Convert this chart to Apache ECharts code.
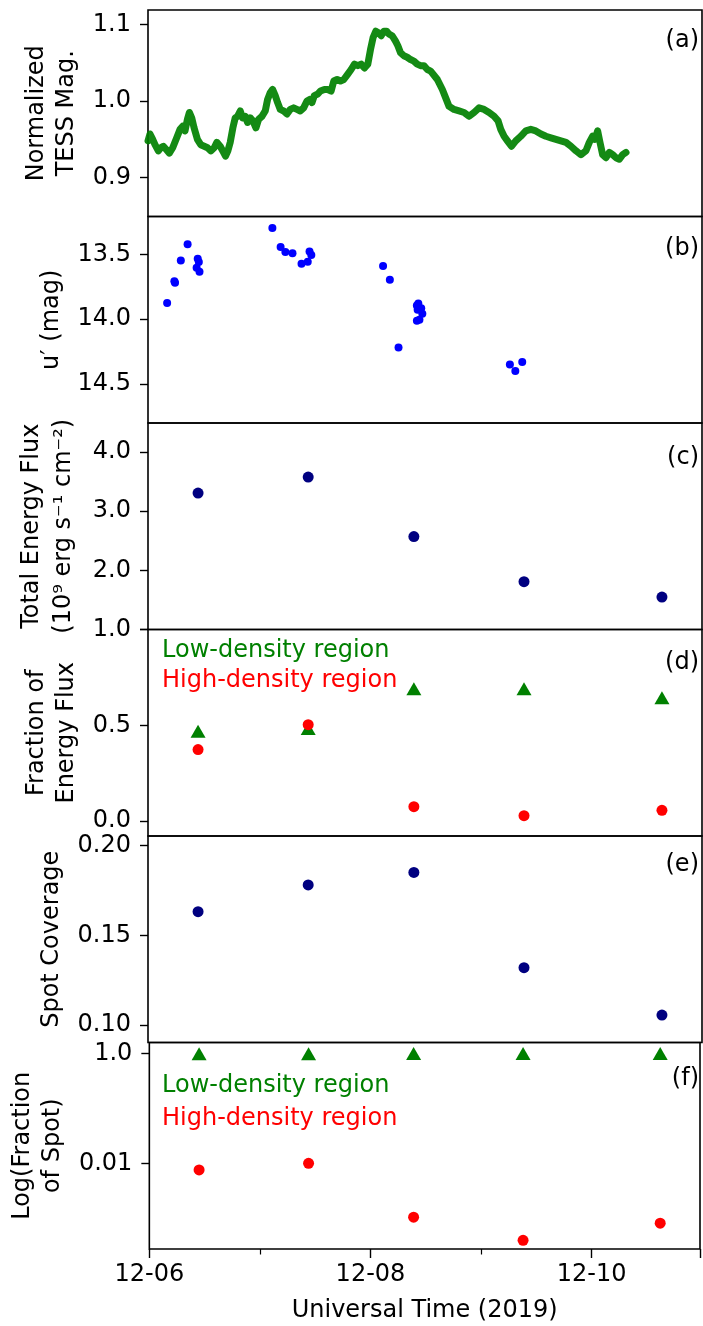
<!DOCTYPE html>
<html>
<head>
<meta charset="utf-8">
<script src="https://cdn.jsdelivr.net/npm/echarts@6/dist/echarts.min.js"></script>
<style>
  html, body { margin: 0; padding: 0; background: #fff; }
  #chart { width: 703px; height: 1326px; }
</style>
</head>
<body>
<div id="chart"></div>
<script>
// time axis: day of December 2019 (UT)
var tessTime = [6.000, 6.018, 6.042, 6.063, 6.093, 6.114, 6.138, 6.162, 6.192, 6.222,
  6.258, 6.288, 6.312, 6.333, 6.354, 6.372, 6.393, 6.414, 6.444, 6.474,
  6.505, 6.535, 6.565, 6.595, 6.619, 6.649, 6.679, 6.697, 6.718, 6.739,
  6.763, 6.784, 6.805, 6.829, 6.850, 6.874, 6.895, 6.919, 6.943, 6.970,
  6.994, 7.024, 7.054, 7.075, 7.099, 7.120, 7.144, 7.165, 7.189, 7.219,
  7.249, 7.279, 7.309, 7.339, 7.369, 7.399, 7.429, 7.453, 7.474, 7.495,
  7.526, 7.550, 7.586, 7.616, 7.646, 7.670, 7.700, 7.730, 7.760, 7.796,
  7.826, 7.856, 7.886, 7.916, 7.946, 7.976, 8.000, 8.024, 8.048, 8.072,
  8.096, 8.120, 8.144, 8.168, 8.195, 8.225, 8.246, 8.270, 8.300, 8.330,
  8.360, 8.390, 8.420, 8.450, 8.480, 8.511, 8.541, 8.556, 8.601, 8.646,
  8.676, 8.706, 8.751, 8.796, 8.841, 8.886, 8.931, 8.976, 9.021, 9.066,
  9.111, 9.147, 9.171, 9.201, 9.231, 9.267, 9.306, 9.351, 9.396, 9.441,
  9.486, 9.532, 9.577, 9.622, 9.667, 9.712, 9.757, 9.802, 9.847, 9.892,
  9.937, 9.967, 9.997, 10.018, 10.042, 10.063, 10.087, 10.117, 10.147, 10.177,
  10.207, 10.237, 10.267, 10.297];
var tessMag = [0.948, 0.957, 0.950, 0.943, 0.935, 0.939, 0.941, 0.937, 0.932, 0.939,
  0.952, 0.963, 0.967, 0.961, 0.976, 0.985, 0.978, 0.965, 0.950, 0.943,
  0.941, 0.939, 0.935, 0.939, 0.946, 0.941, 0.933, 0.928, 0.935, 0.946,
  0.965, 0.978, 0.980, 0.987, 0.978, 0.980, 0.972, 0.978, 0.974, 0.965,
  0.976, 0.980, 0.987, 1.002, 1.011, 1.015, 1.007, 0.998, 0.989, 0.987,
  0.983, 0.989, 0.991, 0.989, 0.987, 0.991, 1.000, 1.002, 0.998, 1.007,
  1.009, 1.013, 1.015, 1.015, 1.013, 1.026, 1.028, 1.026, 1.028, 1.035,
  1.041, 1.048, 1.046, 1.048, 1.043, 1.048, 1.067, 1.083, 1.091, 1.089,
  1.085, 1.091, 1.091, 1.087, 1.085, 1.078, 1.072, 1.063, 1.059, 1.057,
  1.054, 1.052, 1.048, 1.046, 1.046, 1.041, 1.039, 1.039, 1.028, 1.015,
  1.004, 0.993, 0.989, 0.987, 0.985, 0.980, 0.985, 0.991, 0.989, 0.985,
  0.980, 0.974, 0.963, 0.954, 0.948, 0.941, 0.948, 0.954, 0.961, 0.963,
  0.961, 0.957, 0.954, 0.952, 0.950, 0.948, 0.946, 0.941, 0.935, 0.930,
  0.935, 0.946, 0.954, 0.950, 0.961, 0.946, 0.930, 0.926, 0.933, 0.930,
  0.926, 0.924, 0.930, 0.933];

var uTime = [6.172, 6.237, 6.243, 6.295, 6.356, 6.437, 6.447, 6.457, 6.463,
  7.118, 7.192, 7.235, 7.299, 7.380, 7.436, 7.452, 7.468,
  8.113, 8.174, 8.252, 8.417, 8.456, 8.424, 8.466, 8.417, 8.440, 8.430,
  9.253, 9.302, 9.364];
var uMag = [13.877, 13.708, 13.720, 13.547, 13.422, 13.604, 13.534, 13.560, 13.635,
  13.297, 13.443, 13.482, 13.492, 13.573, 13.557, 13.479, 13.505,
  13.591, 13.697, 14.219, 13.895, 13.916, 13.929, 13.960, 14.014, 14.006, 13.880,
  14.352, 14.401, 14.331];

var fitTime = [6.45, 7.44, 8.39, 9.38, 10.62];
var fluxTotal = [3.305, 3.576, 2.571, 1.808, 1.548];
var fracLow = [0.469, 0.483, 0.691, 0.691, 0.644];
var fracHigh = [0.373, 0.503, 0.075, 0.028, 0.056];
var spotCov = [0.1632, 0.1781, 0.1851, 0.1320, 0.1056];
var spotLow = [0.992, 0.990, 0.999, 0.9996, 0.999];
var spotHigh = [0.00766, 0.0101, 0.00106, 0.000402, 0.000822];

var xTicks = [6, 8, 10];

var FONT = 'DejaVu Sans';
var FS = 24;
var tops = [10, 216.5, 423, 629.5, 836, 1042.5];
var panelH = 206.5;

function zip(xs, ys) {
  return xs.map(function (x, i) { return [x, ys[i]]; });
}

var grids = tops.map(function (t) {
  return {
    left: 148, width: 554, top: t, height: panelH,
    show: true, borderColor: '#000', borderWidth: 1.6, backgroundColor: 'transparent'
  };
});

var xAxes = tops.map(function (t, i) {
  var last = i === tops.length - 1;
  return {
    type: 'value', gridIndex: i, min: 6, max: 10.98, interval: 2,
    axisLine: { show: false },
    splitLine: { show: false },
    axisTick: { show: last, length: 9, lineStyle: { color: '#000', width: 1.4 } },
    minorTick: { show: last, splitNumber: 2, length: 5.5, lineStyle: { color: '#000', width: 1.2 } },
    axisLabel: {
      show: last, margin: 14, color: '#000', fontFamily: FONT, fontSize: FS,
      formatter: function (v) {
        if (xTicks.indexOf(v) < 0) return '';
        return '12-' + (v < 10 ? '0' + v : v);
      }
    },
    name: last ? 'Universal Time (2019)' : '',
    nameLocation: 'middle', nameGap: 50,
    nameTextStyle: { color: '#000', fontFamily: FONT, fontSize: FS }
  };
});

function yAxis(i, o) {
  return Object.assign({
    type: 'value', gridIndex: i,
    axisLine: { show: false },
    splitLine: { show: false },
    axisTick: { show: true, length: 8, lineStyle: { color: '#000', width: 1.4 }, customValues: o.ticks },
    axisLabel: { margin: 17, color: '#000', fontFamily: FONT, fontSize: FS, customValues: o.labels || o.ticks, formatter: o.fmt },
    nameLocation: 'middle', nameRotate: 90,
    nameTextStyle: { color: '#000', fontFamily: FONT, fontSize: FS, lineHeight: o.lh || 30 }
  }, o.extra);
}

var yAxes = [
  yAxis(0, { ticks: [0.9, 1.0, 1.1], fmt: function (v) { return v.toFixed(1); },
    extra: { min: 0.8494, max: 1.1186, name: 'Normalized\nTESS Mag.', nameGap: 62 } }),
  yAxis(1, { ticks: [13.5, 14.0, 14.5], fmt: function (v) { return v.toFixed(1); },
    extra: { min: 13.208, max: 14.803, inverse: true, name: 'u\u2032 (mag)', nameGap: 79 } }),
  yAxis(2, { ticks: [1, 2, 3, 4], fmt: function (v) { return v.toFixed(1); }, lh: 32,
    extra: { min: 1.0, max: 4.49, name: 'Total Energy Flux\n(10\u2079 erg s\u207b\u00b9 cm\u207b\u00b2)', nameGap: 68 } }),
  yAxis(3, { ticks: [0, 0.5, 1.0], labels: [0, 0.5], fmt: function (v) { return v.toFixed(1); },
    extra: { min: -0.078, max: 1.0, name: 'Fraction of\nEnergy Flux', nameGap: 62 } }),
  yAxis(4, { ticks: [0.10, 0.15, 0.20], fmt: function (v) { return v.toFixed(2); },
    extra: { min: 0.0903, max: 0.2054, name: 'Spot Coverage', nameGap: 79 } }),
  yAxis(5, { ticks: [0.01, 1], fmt: function (v) { return v >= 1 ? '1.0' : '0.01'; },
    extra: { type: 'log', logBase: 10, min: 0.000279, max: 1.59, name: 'Log(Fraction\nof Spot)', nameGap: 76 } })
];

var navy = '#000080', green = '#008000', red = '#ff0000';

var series = [
  { type: 'line', xAxisIndex: 0, yAxisIndex: 0, data: zip(tessTime, tessMag), showSymbol: false,
    lineStyle: { color: green, width: 7, join: 'round', cap: 'round', opacity: 0.92 } },
  { type: 'scatter', xAxisIndex: 1, yAxisIndex: 1, data: zip(uTime, uMag), symbolSize: 8,
    itemStyle: { color: '#0000ff', opacity: 1 } },
  { type: 'scatter', xAxisIndex: 2, yAxisIndex: 2, data: zip(fitTime, fluxTotal), symbolSize: 11,
    itemStyle: { color: navy, opacity: 1 } },
  { type: 'scatter', xAxisIndex: 3, yAxisIndex: 3, data: zip(fitTime, fracLow), symbol: 'triangle', symbolSize: [15, 13],
    itemStyle: { color: green, opacity: 1 } },
  { type: 'scatter', xAxisIndex: 3, yAxisIndex: 3, data: zip(fitTime, fracHigh), symbolSize: 11,
    itemStyle: { color: red, opacity: 1 } },
  { type: 'scatter', xAxisIndex: 4, yAxisIndex: 4, data: zip(fitTime, spotCov), symbolSize: 11,
    itemStyle: { color: navy, opacity: 1 } },
  { type: 'scatter', xAxisIndex: 5, yAxisIndex: 5, data: zip(fitTime, spotLow), symbol: 'triangle', symbolSize: [15, 13],
    itemStyle: { color: green, opacity: 1 } },
  { type: 'scatter', xAxisIndex: 5, yAxisIndex: 5, data: zip(fitTime, spotHigh), symbolSize: 11,
    itemStyle: { color: red, opacity: 1 } }
];

function txt(x, y, s, color, align) {
  return { type: 'text', x: x, y: y, style: { text: s, fill: color, font: FS + 'px "' + FONT + '"', textAlign: align, textVerticalAlign: 'middle' } };
}

var panelTags = ['(a)', '(b)', '(c)', '(d)', '(e)', '(f)'];
var tagY = [41, 248.5, 458, 662.5, 865, 1078.5];
var graphics = panelTags.map(function (s, i) { return txt(699, tagY[i], s, '#000', 'right'); });
graphics.push(txt(162, 651, 'Low-density region', green, 'left'));
graphics.push(txt(162, 680.5, 'High-density region', red, 'left'));
graphics.push(txt(162, 1086, 'Low-density region', green, 'left'));
graphics.push(txt(162, 1118.5, 'High-density region', red, 'left'));

var chart = echarts.init(document.getElementById('chart'));
chart.setOption({
  animation: false,
  backgroundColor: '#fff',
  grid: grids,
  xAxis: xAxes,
  yAxis: yAxes,
  series: series,
  graphic: graphics
});
</script>
</body>
</html>
